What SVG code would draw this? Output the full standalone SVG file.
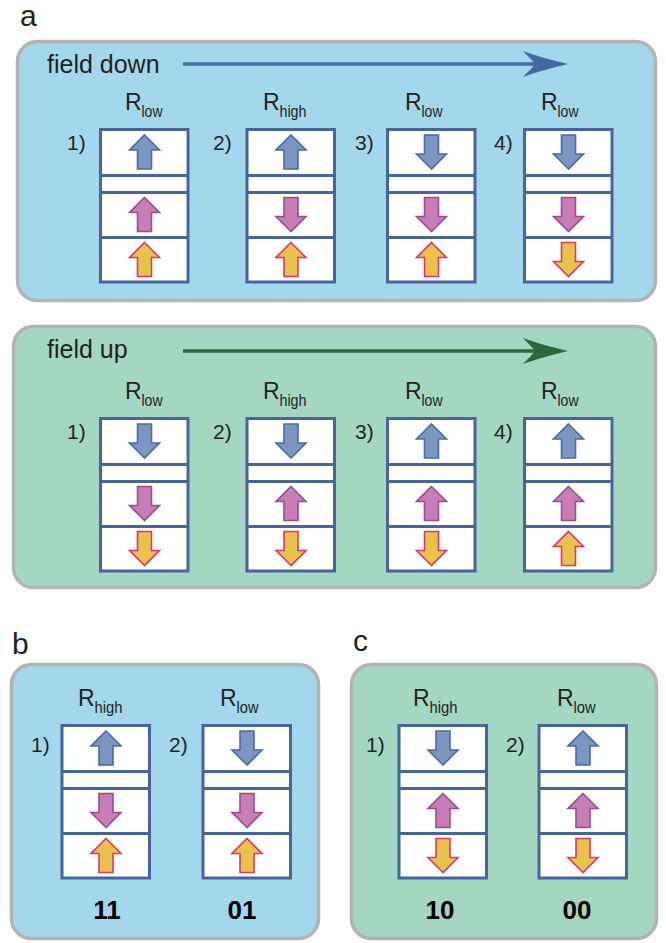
<svg xmlns="http://www.w3.org/2000/svg" xmlns:xlink="http://www.w3.org/1999/xlink" width="666" height="943" viewBox="0 0 666 943">
<style>
text{font-family:"Liberation Sans",Arial,sans-serif;fill:#231f20}
.lab{font-size:30px}
.fld{font-size:25px}
.R{font-size:23px}
.sub{font-size:16px}
.num{font-size:21px}
.bit{font-size:26px;font-weight:bold;fill:#000;text-anchor:middle}
.pb{fill:#a3d8ec;stroke:#b3b3b3;stroke-width:3.5}
.pg{fill:#a4d7c1;stroke:#b3b3b3;stroke-width:3.5}
.st{fill:#fff;stroke:#4665a0;stroke-width:3}
.dv{stroke:#4665a0;stroke-width:3}
.ab{fill:#7b97c1;stroke:#4a6aa8;stroke-width:1.6}
.am{fill:#c87db6;stroke:#9b4a94;stroke-width:1.6}
.ay{fill:#e9c24b;stroke:#e2336c;stroke-width:1.6}
</style>
<defs>
<path id="up" d="M0,-17 L15,-2 L7,-2 L7,17 L-7,17 L-7,-2 L-15,-2 Z"/>
<g id="stack">
<rect x="0" y="0" width="87.5" height="152.5" class="st"/>
<line x1="0" y1="46" x2="87.5" y2="46" class="dv"/>
<line x1="0" y1="63" x2="87.5" y2="63" class="dv"/>
<line x1="0" y1="108" x2="87.5" y2="108" class="dv"/>
</g>
</defs>

<text class="lab" x="20" y="26">a</text>
<text class="lab" x="12" y="654">b</text>
<text class="lab" x="353" y="651">c</text>

<g id="panel-a-down">
<rect class="pb" x="17.5" y="41.5" width="638" height="259" rx="20"/>
<text class="fld" x="47" y="73">field down</text>
</g>
<g id="panel-a-up">
<rect class="pg" x="13.5" y="326.5" width="642" height="261" rx="20"/>
<text class="fld" x="47" y="358">field up</text>
</g>
<g id="panel-b">
<rect class="pb" x="11.5" y="664.5" width="307" height="274" rx="20"/>
</g>
<g id="panel-c">
<rect class="pg" x="351.5" y="664.5" width="305" height="274" rx="20"/>
</g>

<g id="connectors">
<line x1="183" y1="64" x2="540" y2="64" stroke="#4767a3" stroke-width="3.5"/>
<path d="M568,64 C552,60 536,56 523,51 C529,57 533,61 535,64 C533,67 529,71 523,77 C536,72 552,68 568,64 Z" fill="#4767a3"/>
<line x1="183" y1="351" x2="540" y2="351" stroke="#2a6a3a" stroke-width="3.5"/>
<path d="M568,351 C552,347 536,343 523,338 C529,344 533,348 535,351 C533,354 529,358 523,364 C536,359 552,355 568,351 Z" fill="#2a6a3a"/>
</g>

<!-- field down -->
<g id="a-down-1">
<text class="R" x="125" y="110">R</text><text class="sub" x="141.5" y="117" textLength="21" lengthAdjust="spacingAndGlyphs">low</text>
<text class="num" x="67" y="150">1)</text>
<use xlink:href="#stack" x="100.5" y="129.5"/>
<use xlink:href="#up" class="ab" transform="translate(144.5,152)"/>
<use xlink:href="#up" class="am" transform="translate(144.5,214.5)"/>
<use xlink:href="#up" class="ay" transform="translate(144.5,259.5)"/>
</g>
<g id="a-down-2">
<text class="R" x="263" y="110">R</text><text class="sub" x="279.5" y="117" textLength="27" lengthAdjust="spacingAndGlyphs">high</text>
<text class="num" x="213" y="150">2)</text>
<use xlink:href="#stack" x="247" y="129.5"/>
<use xlink:href="#up" class="ab" transform="translate(291,152)"/>
<use xlink:href="#up" class="am" transform="translate(291,214.5) rotate(180)"/>
<use xlink:href="#up" class="ay" transform="translate(291,259.5)"/>
</g>
<g id="a-down-3">
<text class="R" x="405" y="110">R</text><text class="sub" x="421.5" y="117" textLength="21" lengthAdjust="spacingAndGlyphs">low</text>
<text class="num" x="355" y="150">3)</text>
<use xlink:href="#stack" x="387.5" y="129.5"/>
<use xlink:href="#up" class="ab" transform="translate(431.5,152) rotate(180)"/>
<use xlink:href="#up" class="am" transform="translate(431.5,214.5) rotate(180)"/>
<use xlink:href="#up" class="ay" transform="translate(431.5,259.5)"/>
</g>
<g id="a-down-4">
<text class="R" x="541" y="110">R</text><text class="sub" x="557.5" y="117" textLength="21" lengthAdjust="spacingAndGlyphs">low</text>
<text class="num" x="494" y="150">4)</text>
<use xlink:href="#stack" x="524.5" y="129.5"/>
<use xlink:href="#up" class="ab" transform="translate(568.5,152) rotate(180)"/>
<use xlink:href="#up" class="am" transform="translate(568.5,214.5) rotate(180)"/>
<use xlink:href="#up" class="ay" transform="translate(568.5,259.5) rotate(180)"/>
</g>

<!-- field up -->
<g id="a-up-1">
<text class="R" x="125" y="399">R</text><text class="sub" x="141.5" y="406" textLength="21" lengthAdjust="spacingAndGlyphs">low</text>
<text class="num" x="67" y="439">1)</text>
<use xlink:href="#stack" x="100.5" y="418.5"/>
<use xlink:href="#up" class="ab" transform="translate(144.5,441) rotate(180)"/>
<use xlink:href="#up" class="am" transform="translate(144.5,503.5) rotate(180)"/>
<use xlink:href="#up" class="ay" transform="translate(144.5,548.5) rotate(180)"/>
</g>
<g id="a-up-2">
<text class="R" x="263" y="399">R</text><text class="sub" x="279.5" y="406" textLength="27" lengthAdjust="spacingAndGlyphs">high</text>
<text class="num" x="213" y="439">2)</text>
<use xlink:href="#stack" x="247" y="418.5"/>
<use xlink:href="#up" class="ab" transform="translate(291,441) rotate(180)"/>
<use xlink:href="#up" class="am" transform="translate(291,503.5)"/>
<use xlink:href="#up" class="ay" transform="translate(291,548.5) rotate(180)"/>
</g>
<g id="a-up-3">
<text class="R" x="405" y="399">R</text><text class="sub" x="421.5" y="406" textLength="21" lengthAdjust="spacingAndGlyphs">low</text>
<text class="num" x="355" y="439">3)</text>
<use xlink:href="#stack" x="387.5" y="418.5"/>
<use xlink:href="#up" class="ab" transform="translate(431.5,441)"/>
<use xlink:href="#up" class="am" transform="translate(431.5,503.5)"/>
<use xlink:href="#up" class="ay" transform="translate(431.5,548.5) rotate(180)"/>
</g>
<g id="a-up-4">
<text class="R" x="541" y="399">R</text><text class="sub" x="557.5" y="406" textLength="21" lengthAdjust="spacingAndGlyphs">low</text>
<text class="num" x="494" y="439">4)</text>
<use xlink:href="#stack" x="524.5" y="418.5"/>
<use xlink:href="#up" class="ab" transform="translate(568.5,441)"/>
<use xlink:href="#up" class="am" transform="translate(568.5,503.5)"/>
<use xlink:href="#up" class="ay" transform="translate(568.5,548.5)"/>
</g>

<!-- panel b -->
<g id="b-1">
<text class="R" x="78" y="706">R</text><text class="sub" x="94.5" y="713" textLength="28" lengthAdjust="spacingAndGlyphs">high</text>
<text class="num" x="31" y="752">1)</text>
<use xlink:href="#stack" x="62" y="725.5"/>
<use xlink:href="#up" class="ab" transform="translate(106,748)"/>
<use xlink:href="#up" class="am" transform="translate(106,810.5) rotate(180)"/>
<use xlink:href="#up" class="ay" transform="translate(106,855.5)"/>
<text class="bit" x="107" y="919">11</text>
</g>
<g id="b-2">
<text class="R" x="220" y="706">R</text><text class="sub" x="236.5" y="713" textLength="22" lengthAdjust="spacingAndGlyphs">low</text>
<text class="num" x="169" y="752">2)</text>
<use xlink:href="#stack" x="203" y="725.5"/>
<use xlink:href="#up" class="ab" transform="translate(247,748) rotate(180)"/>
<use xlink:href="#up" class="am" transform="translate(247,810.5) rotate(180)"/>
<use xlink:href="#up" class="ay" transform="translate(247,855.5)"/>
<text class="bit" x="242" y="919">01</text>
</g>

<!-- panel c -->
<g id="c-1">
<text class="R" x="413" y="706">R</text><text class="sub" x="429.5" y="713" textLength="28" lengthAdjust="spacingAndGlyphs">high</text>
<text class="num" x="366" y="752">1)</text>
<use xlink:href="#stack" x="399" y="725.5"/>
<use xlink:href="#up" class="ab" transform="translate(443,748) rotate(180)"/>
<use xlink:href="#up" class="am" transform="translate(443,810.5)"/>
<use xlink:href="#up" class="ay" transform="translate(443,855.5) rotate(180)"/>
<text class="bit" x="440" y="919">10</text>
</g>
<g id="c-2">
<text class="R" x="557" y="706">R</text><text class="sub" x="573.5" y="713" textLength="22" lengthAdjust="spacingAndGlyphs">low</text>
<text class="num" x="506" y="752">2)</text>
<use xlink:href="#stack" x="539" y="725.5"/>
<use xlink:href="#up" class="ab" transform="translate(583,748)"/>
<use xlink:href="#up" class="am" transform="translate(583,810.5)"/>
<use xlink:href="#up" class="ay" transform="translate(583,855.5) rotate(180)"/>
<text class="bit" x="577" y="919">00</text>
</g>
</svg>
